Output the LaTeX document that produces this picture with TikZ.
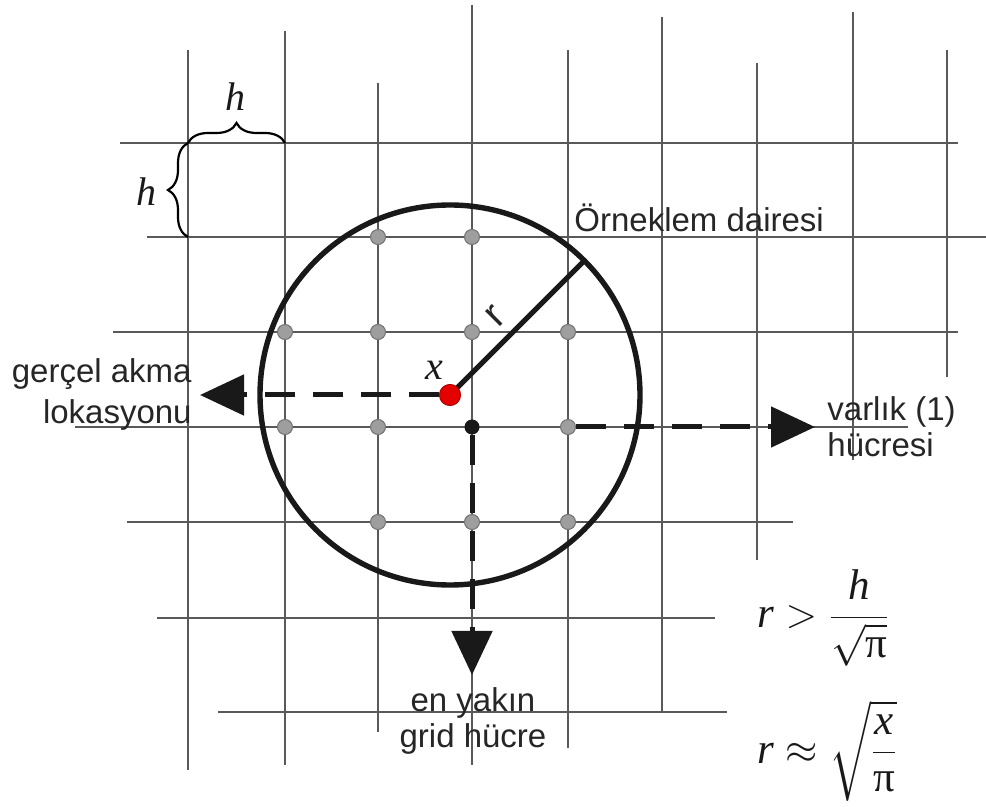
\documentclass[tikz,border=0pt]{standalone}
\usepackage{amsmath}
\usepackage{fontspec}
\setmainfont{Liberation Sans}
\newfontfamily\tms{Liberation Serif}
\usetikzlibrary{arrows.meta,decorations.pathreplacing}
\newcommand\tiletter[1]{\text{\tms\itshape #1}}
\newcommand\upi{\text{\tms π}}
\tikzset{
  gridline/.style={draw=black!65, line width=0.75pt},
  gdot/.style={circle, fill=black!38, draw=black!55, line width=0.5pt, minimum size=7.5pt, inner sep=0},
  bdot/.style={circle, fill=black!90, minimum size=7.5pt, inner sep=0},
  rdot/.style={circle, fill=red!90!black, draw=red!70!black, line width=0.4pt, minimum size=10.5pt, inner sep=0},
  samplecircle/.style={circle, draw=black!90, line width=2.7pt, minimum size=190pt, inner sep=0, outer sep=0},
  dasharrow/.style={draw=black!90, line width=2.5pt, dash pattern=on 15pt off 9pt, -{Triangle[length=22pt,width=20pt]}},
  lbl/.style={font=\fontsize{16.5}{19}\selectfont, text=black!85, inner sep=0},
  mlbl/.style={font=\fontsize{20}{22}\selectfont\tms\itshape, text=black!90, inner sep=0},
  formula/.style={font=\fontsize{21.5}{24}\selectfont, text=black!90, inner sep=0},
  bracepath/.style={draw=black, line width=1.1pt, decorate, decoration={brace, amplitude=10pt}}
}
\begin{document}
\begin{tikzpicture}[x=0.5pt, y=-0.5pt]
\useasboundingbox (0,0) rectangle (986,807);
% grid
\foreach \gx/\ga/\gb in {188/50/770, 285/31/765, 378/83/732, 472/5/765, 568/50/748, 662/17/712, 757/63/560, 853/12/460, 947/50/377}
  \draw[gridline] (\gx,\ga) -- (\gx,\gb);
\foreach \gy/\ga/\gb in {143/120/958, 237/147/986, 332/113/958, 427/75/908, 522/127/793, 618/157/715, 712/218/727}
  \draw[gridline] (\ga,\gy) -- (\gb,\gy);
% braces
\draw[bracepath] (188,143) -- (285,143);
\draw[bracepath] (188,237) -- (188,143);
\node[mlbl] (htop) at (235,97) {h};
\node[mlbl] (hleft) at (146,192) {h};
% sample circle and points
\node[rdot] (xr) at (450,395) {};
\node[samplecircle] (circ) at (450,395) {};
\draw[draw=black!90, line width=2.5pt] (xr.center) -- (circ.45);
\node[rdot] at (450,395) {};
\node[gdot] (p1) at (378,237) {};
\node[gdot] (p2) at (472,237) {};
\node[gdot] (p3) at (285,332) {};
\node[gdot] (p4) at (378,332) {};
\node[gdot] (p5) at (472,332) {};
\node[gdot] (p6) at (568,332) {};
\node[gdot] (p7) at (285,427) {};
\node[gdot] (p8) at (378,427) {};
\node[bdot] (bd) at (472,427) {};
\node[gdot] (p9) at (568,427) {};
\node[gdot] (p10) at (378,522) {};
\node[gdot] (p11) at (472,522) {};
\node[gdot] (p12) at (568,522) {};
% arrows
\coordinate (lt) at (200,395);
\coordinate (rt) at (815,427);
\coordinate (dt) at (472,675);
\draw[dasharrow] (xr) -- (lt);
\draw[dasharrow] (p9) -- (rt);
\draw[dasharrow] (bd) -- (dt);
% labels
\node[mlbl] (xlab) at (434,370) {x};
\node[lbl, rotate=45, font=\fontsize{20}{22}\selectfont] (rlab) at (496,316) {r};
\node[lbl, anchor=base west] (orn) at (574,232) {Örneklem dairesi};
\node[lbl, align=right, anchor=east, font=\fontsize{16.5}{20.5}\selectfont] (gercel) at (192,394) {gerçel akma\\lokasyonu};
\node[lbl, align=left, anchor=west, font=\fontsize{16.5}{18}\selectfont] (varlik) at (827,427) {varlık (1)\\hücresi};
\node[lbl, align=center, font=\fontsize{16.5}{18}\selectfont] (enyakin) at (473,721) {en yakın\\grid hücre};
% formulas
\node[formula, anchor=base west] (f1) at (757,628) {$\tiletter{r} > \dfrac{\tiletter{h}}{\sqrt{\upi}}$};
\node[formula, anchor=base west] (f2) at (757,763) {$\tiletter{r} \approx \sqrt{\dfrac{\tiletter{x}}{\upi}}$};
\end{tikzpicture}
\end{document}
